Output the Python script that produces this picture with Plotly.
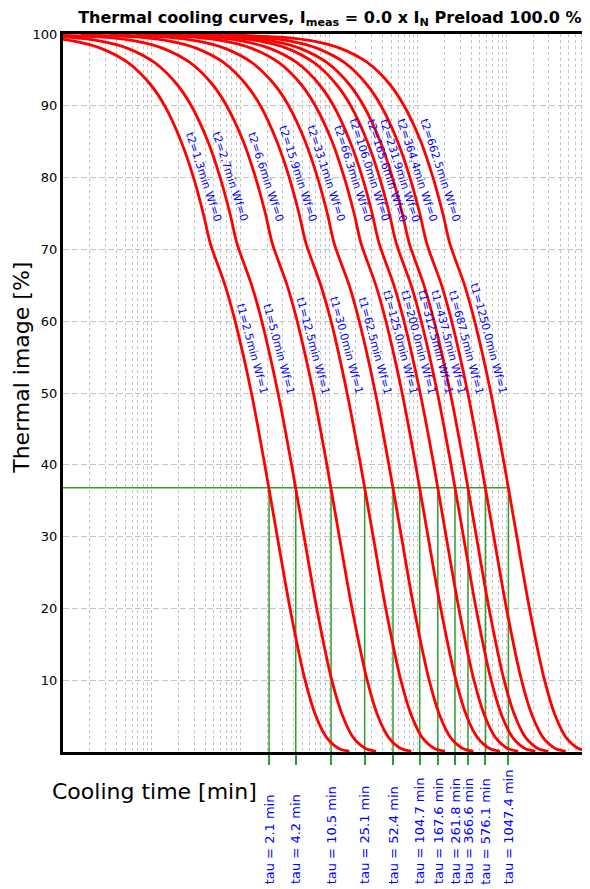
import numpy as np
import plotly.graph_objects as go

# curve parameters, as printed on the chart
t1 = [2.5, 5.0, 12.5, 30.0, 62.5, 125.0, 200.0, 312.5, 437.5, 687.5, 1250.0]
t2 = [1.3, 2.7, 6.6, 15.9, 33.1, 66.3, 106.0, 165.6, 231.9, 364.4, 662.5]
tau = [2.1, 4.2, 10.5, 25.1, 52.4, 104.7, 167.6, 261.8, 366.6, 576.1, 1047.4]
tau_level = 36.8

# thermal image levels [%] and the cooling time [min] at which each curve reaches them
levels = [99.9, 99.5, 99, 98, 96, 93, 90, 85, 80, 75, 70.8, 65, 60, 50, 40, 30, 20, 10, 5, 2, 0.5, 0.1]
cool_times = [
    [0.00133, 0.00664, 0.0133, 0.0268, 0.0541, 0.0962, 0.140, 0.215, 0.296, 0.381, 0.458, 0.671, 0.871, 1.33, 1.88, 2.60, 3.62, 5.35, 7.08, 9.37, 12.8, 16.9],
    [0.00265, 0.0133, 0.0266, 0.0536, 0.108, 0.192, 0.279, 0.431, 0.591, 0.762, 0.915, 1.34, 1.74, 2.65, 3.77, 5.21, 7.24, 10.7, 14.2, 18.7, 25.7, 33.7],
    [0.00663, 0.0332, 0.0666, 0.134, 0.271, 0.481, 0.698, 1.08, 1.48, 1.91, 2.29, 3.36, 4.36, 6.64, 9.42, 13.0, 18.1, 26.8, 35.4, 46.9, 64.2, 84.3],
    [0.0159, 0.0797, 0.160, 0.321, 0.649, 1.15, 1.68, 2.58, 3.55, 4.57, 5.49, 8.05, 10.5, 15.9, 22.6, 31.3, 43.4, 64.2, 85.0, 112, 154, 202],
    [0.0331, 0.166, 0.333, 0.669, 1.35, 2.40, 3.49, 5.38, 7.39, 9.53, 11.4, 16.8, 21.8, 33.2, 47.1, 65.1, 90.4, 134, 177, 234, 321, 422],
    [0.0663, 0.332, 0.666, 1.34, 2.71, 4.81, 6.98, 10.8, 14.8, 19.1, 22.9, 33.6, 43.6, 66.4, 94.2, 130, 181, 268, 354, 469, 642, 843],
    [0.106, 0.531, 1.07, 2.14, 4.33, 7.69, 11.2, 17.2, 23.7, 30.5, 36.6, 53.7, 69.7, 106, 151, 208, 289, 428, 567, 750, 1027, 1349],
    [0.166, 0.830, 1.66, 3.35, 6.76, 12.0, 17.5, 26.9, 37.0, 47.6, 57.2, 83.9, 109, 166, 236, 326, 452, 669, 885, 1172, 1605, 2108],
    [0.232, 1.16, 2.33, 4.69, 9.47, 16.8, 24.4, 37.7, 51.7, 66.7, 80.1, 117, 152, 232, 330, 456, 633, 936, 1240, 1640, 2247, 2951],
    [0.364, 1.83, 3.66, 7.36, 14.9, 26.4, 38.4, 59.2, 81.3, 105, 126, 185, 240, 365, 518, 716, 995, 1471, 1948, 2578, 3531, 4638],
    [0.663, 3.32, 6.66, 13.4, 27.1, 48.1, 69.8, 108, 148, 191, 229, 336, 436, 664, 942, 1302, 1809, 2675, 3542, 4687, 6420, 8432],
]

x_min, x_max = 0.01, 8700
grid_x = [k * 10.0 ** d for d in range(-2, 4) for k in range(1, 10)]

FONT = "DejaVu Sans"
GREEN = "#2ca02c"

fig = go.Figure()

# green tau construction lines, under the curves
gx, gy = [], []
for v in tau:
    gx += [v, v, None]
    gy += [tau_level, 0, None]
fig.add_trace(go.Scatter(x=gx, y=gy, mode="lines", line=dict(color=GREEN, width=1.5), hoverinfo="skip"))
fig.add_trace(go.Scatter(x=[x_min, max(tau)], y=[tau_level, tau_level], mode="lines",
                         line=dict(color=GREEN, width=1.5), hoverinfo="skip"))

for times in cool_times:
    fig.add_trace(go.Scatter(x=times, y=levels, mode="lines",
                             line=dict(color="red", width=2.8, shape="spline", smoothing=0.8)))

# curve labels
i75 = levels.index(75)
i50 = levels.index(50)
for k in range(len(t1)):
    fig.add_annotation(x=np.log10(cool_times[k][i75]), y=75, xref="x", yref="y",
                       text=f"t2={t2[k]:.1f}min Wf=0", textangle=72,
                       xanchor="right", yanchor="bottom", xshift=23, yshift=-12,
                       showarrow=False, font=dict(family=FONT, size=11, color="blue"))
    fig.add_annotation(x=np.log10(cool_times[k][i50]), y=50, xref="x", yref="y",
                       text=f"t1={t1[k]:.1f}min Wf=1", textangle=75,
                       xanchor="right", yanchor="bottom", xshift=21, yshift=-5,
                       showarrow=False, font=dict(family=FONT, size=11, color="blue"))

for v in tau:
    fig.add_annotation(x=np.log10(v), y=-0.187, xref="x", yref="paper",
                       text=f"tau = {v:.1f} min", textangle=-90,
                       xanchor="center", yanchor="bottom", showarrow=False,
                       font=dict(family=FONT, size=13, color="blue"))

fig.add_annotation(x=-0.078, y=0.535, xref="paper", yref="paper", text="Thermal image [%]",
                   xanchor="center", yanchor="middle",
                   textangle=-90, showarrow=False, font=dict(family=FONT, size=22, color="black"))
fig.add_annotation(x=0.1727, y=-0.0557, xref="paper", yref="paper", text="Cooling time [min]",
                   xanchor="center", yanchor="middle",
                   showarrow=False, font=dict(family=FONT, size=22, color="black"))

# the page body adds an 8px margin, so the figure is 8px smaller than the window
fig.update_layout(
    width=582,
    height=881,
    autosize=False,
    margin=dict(l=55, r=0, t=26, b=137),
    paper_bgcolor="white",
    plot_bgcolor="white",
    showlegend=False,
    font=dict(family=FONT, color="black"),
    title=dict(
        text="<b>Thermal cooling curves, I<sub>meas</sub> = 0.0 x I<sub>N</sub> Preload 100.0 %</b>",
        x=0.553, xref="container", xanchor="center",
        y=0.9898, yref="container", yanchor="middle",
        font=dict(family=FONT, size=16, color="black"),
    ),
    xaxis=dict(
        type="log",
        range=[np.log10(x_min), np.log10(x_max)],
        showline=True, linecolor="black", linewidth=3, mirror=True,
        tickvals=tau, ticks="outside", ticklen=10, tickwidth=1.5, tickcolor=GREEN,
        showticklabels=False, showgrid=False, zeroline=False,
        minor=dict(tickvals=grid_x, showgrid=True, gridcolor="#c4c4c4",
                   griddash="3px,3px", gridwidth=1, ticks=""),
    ),
    yaxis=dict(
        range=[0, 100],
        showline=True, linecolor="black", linewidth=3,
        tickvals=[10, 20, 30, 40, 50, 60, 70, 80, 90, 100], ticks="",
        tickfont=dict(family=FONT, size=13, color="black"),
        showgrid=True, gridcolor="#c4c4c4", griddash="6px,3px", gridwidth=1,
        zeroline=False,
    ),
)

fig.write_html("out.html")
